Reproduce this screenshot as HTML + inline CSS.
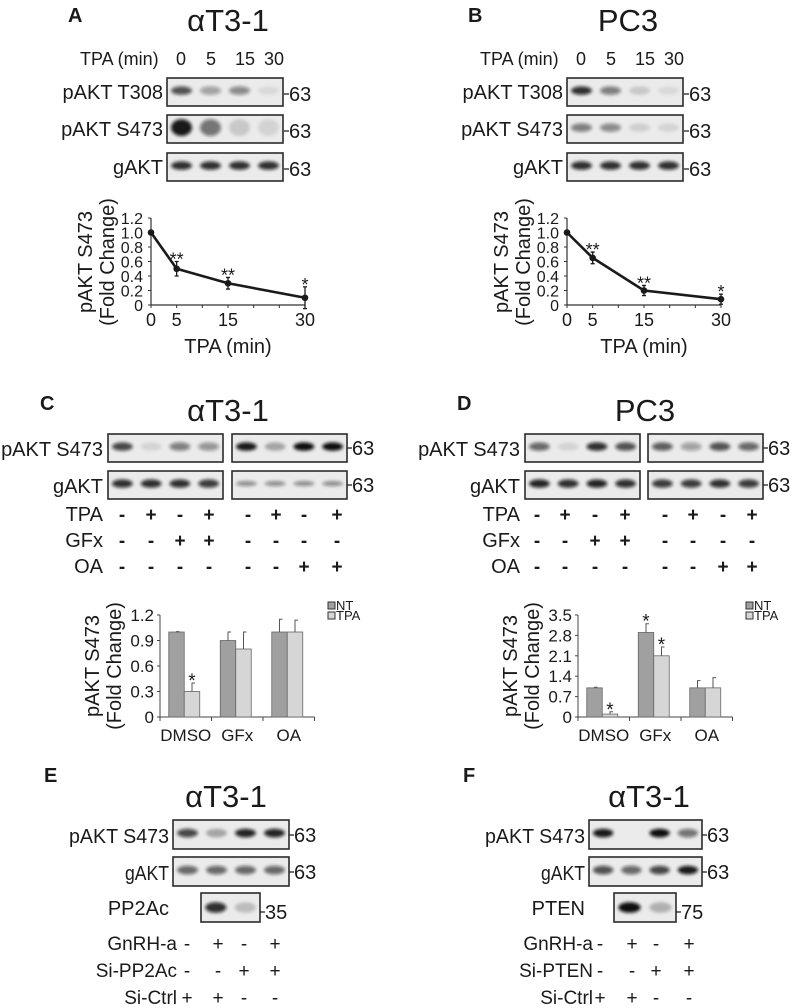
<!DOCTYPE html>
<html><head><meta charset="utf-8"><style>
html,body{margin:0;padding:0;background:#fff}
svg{display:block;font-family:"Liberation Sans",Arial,sans-serif}
</style></head><body>
<svg id="fig" width="800" height="1008" viewBox="0 0 800 1008" xmlns="http://www.w3.org/2000/svg">
<defs><filter id="bl" x="-30%" y="-100%" width="160%" height="300%"><feGaussianBlur stdDeviation="1.6"/></filter></defs>
</svg>
<script>
// ---- line chart data (A, B)
const timePoints=[0,5,15,30];
const xTicks=[0,5,15,30];
const yTicksLine=[0,0.2,0.4,0.6,0.8,1.0,1.2];
const yTickLabelsLine=['0','0.2','0.4','0.6','0.8','1.0','1.2'];
const aValues=[1.0,0.5,0.3,0.1];
const aErrors=[0.01,0.1,0.08,0.15];
const aStars=['','**','**','*'];
const bValues=[1.0,0.65,0.2,0.08];
const bErrors=[0.01,0.08,0.07,0.07];
const bStars=['','**','**','*'];
// ---- bar chart data (C, D)
const barCategories=['DMSO','GFx','OA'];
const cNT=[1.0,0.9,1.0];
const cNTErr=[0.005,0.1,0.15];
const cTPA=[0.3,0.8,1.0];
const cTPAErr=[0.1,0.2,0.14];
const cTicks=[0,0.3,0.6,0.9,1.2];
const cTickLabels=['0','0.3','0.6','0.9','1.2'];
const cStarsNT=['','',''];
const cStarsTPA=['*','',''];
const dNT=[1.0,2.9,1.0];
const dNTErr=[0.02,0.3,0.25];
const dTPA=[0.1,2.1,1.0];
const dTPAErr=[0.08,0.3,0.35];
const dTicks=[0,0.7,1.4,2.1,2.8,3.5];
const dTickLabels=['0','0.7','1.4','2.1','2.8','3.5'];
const dStarsNT=['','*',''];
const dStarsTPA=['*','*',''];

const svg=document.getElementById('fig');
const NS='http://www.w3.org/2000/svg';
function mk(tag,attrs,parent){const e=document.createElementNS(NS,tag);for(const k in attrs)e.setAttribute(k,attrs[k]);(parent||svg).appendChild(e);return e;}
function txt(x,y,s,size,anchor,name,extra){
  const e=mk('text',Object.assign({x:x,y:y,'font-size':size,'text-anchor':anchor||'start',fill:'#1a1a1a'},extra||{}));
  e.textContent=s;
  
  
  return e;}
function blot(x,y,w,h,ints,name,opt){
  opt=opt||{};
  const g=mk('g',{});
  
  
  const r=mk('rect',{x:x,y:y,width:w,height:h,fill:opt.bg||'#ebebeb',stroke:'#2b2b2b','stroke-width':1.6},g);
  
  
  const n=ints.length, lw=w/n;
  ints.forEach((v,i)=>{
    if(v<=0)return;
    const b=mk('ellipse',{cx:x+lw*(i+0.5),cy:y+h*(opt.cy||0.45),rx:lw*0.36,ry:h*(opt.ry||0.15),fill:'#111','fill-opacity':v,filter:'url(#bl)'},g);
    
    
  });
  return g;}
function mw(x,y,label,name,size){
  const l=mk('line',{x1:x,y1:y,x2:x+5,y2:y,stroke:'#222','stroke-width':1.3});
  
  
  txt(x+5,y+7,label,size||20,'start',name);
}

// ===== Panel A & B
function topPanel(ox,letter,title,blots){
  txt(ox+68,22,letter,20,'start','panel-label-'+letter,{'font-weight':'bold'});
  txt(ox+228,31,title,31,'middle','panel-title-'+letter);
  txt(ox+80,65,'TPA (min)',18,'start','tpa-header-'+letter);
  const nx=[181,211,245,274];
  ['0','5','15','30'].forEach((s,i)=>txt(ox+nx[i],65,s,18,'middle','lane-time-'+letter));
  const rows=[['pAKT T308',78,28],['pAKT S473',115,28],['gAKT',153,28]];
  rows.forEach((r,i)=>{
    txt(ox+163,r[1]+21,r[0],20,'end','blot-label-'+letter);
    blot(ox+167,r[1],116,r[2],blots[i],'blot-'+letter+'-'+i,{ry:i==1&&letter=='A'?0.3:0.15});
    mw(ox+284,r[1]+16,'63','mw-marker-'+letter);
  });
}
topPanel(0,'A','\u03b1T3-1',[[0.7,0.35,0.45,0.08],[0.95,0.55,0.15,0.1],[0.85,0.85,0.85,0.85]]);
topPanel(400,'B','PC3',[[0.85,0.5,0.15,0.08],[0.5,0.45,0.12,0.1],[0.85,0.85,0.85,0.85]]);

function lineChart(ax,vals,errs,stars,id){
  const x0=ax,x1=ax+154,yb=305,yt=218;
  const xs=t=>x0+(t/30)*(x1-x0);
  const ys=v=>yb-(v/1.2)*(yb-yt);
  const axis=mk('path',{d:`M${x0},${yt} V${yb} H${x1}`,fill:'none',stroke:'#333','stroke-width':1.2});
  
  
  yTicksLine.forEach((v,i)=>{
    const t=mk('line',{x1:x0-3,x2:x0,y1:ys(v),y2:ys(v),stroke:'#333'});
    
    
    txt(x0-8,ys(v)+6,yTickLabelsLine[i],16,'end','y-tick-label-'+id);
  });
  for(let m=0;m<=30;m+=5){
    const t=mk('line',{x1:xs(m),x2:xs(m),y1:yb,y2:yb+3,stroke:'#333'});
    
    
  }
  xTicks.forEach(v=>txt(xs(v),326,String(v),18,'middle','x-tick-label-'+id));
  txt(ax+77,353,'TPA (min)',20,'middle','x-axis-title-'+id);
  txt(0,0,'pAKT S473',20,'middle','y-axis-title-'+id,{transform:`translate(${ax-59},262) rotate(-90)`});
  txt(0,0,'(Fold Change)',20,'middle','y-axis-subtitle-'+id,{transform:`translate(${ax-37},262) rotate(-90)`});
  const p=mk('polyline',{points:timePoints.map((t,i)=>xs(t)+','+ys(vals[i])).join(' '),fill:'none',stroke:'#1a1a1a','stroke-width':2.6});
  
  
  timePoints.forEach((t,i)=>{
    const e=mk('path',{d:`M${xs(t)},${ys(vals[i]-errs[i])}V${ys(vals[i]+errs[i])}M${xs(t)-2},${ys(vals[i]+errs[i])}h4M${xs(t)-2},${ys(vals[i]-errs[i])}h4`,stroke:'#1a1a1a','stroke-width':1.3,fill:'none'});
    
    
    const c=mk('circle',{cx:xs(t),cy:ys(vals[i]),r:3.3,fill:'#1a1a1a'});
    
    
    if(stars[i])txt(xs(t),ys(vals[i]+errs[i])+4,stars[i],18,'middle','significance-star-'+id);
  });
}
lineChart(151,aValues,aErrors,aStars,'a');
lineChart(567,bValues,bErrors,bStars,'b');

// ===== Panel C & D
function midPanel(ox,letter,title,labX,boxes,signX,pak,gak){
  txt(ox+40,410,letter,20,'start','panel-label-'+letter,{'font-weight':'bold'});
  txt(ox+228,421,title,31,'middle','panel-title-'+letter);
  txt(labX,456,'pAKT S473',20,'end','blot-label-'+letter);
  txt(labX,493,'gAKT',20,'end','blot-label-'+letter);
  blot(boxes[0],434,115,28,pak[0],'blot-pakt-left-'+letter);
  blot(boxes[1],434,115,28,pak[1],'blot-pakt-right-'+letter);
  blot(boxes[0],471,115,28,gak[0],'blot-gakt-left-'+letter);
  blot(boxes[1],471,115,28,gak[1],'blot-gakt-right-'+letter,{ry:gak[2]||0.15});
  mw(boxes[1]+115,448,'63','mw-marker-'+letter);
  mw(boxes[1]+115,485,'63','mw-marker-'+letter);
  const rows=[['TPA',['-','+','-','+','-','+','-','+']],['GFx',['-','-','+','+','-','-','-','-']],['OA',['-','-','-','-','-','-','+','+']]];
  rows.forEach((r,i)=>{
    const y=521+i*26;
    txt(labX,y,r[0],20,'end','treatment-label-'+letter);
    r[1].forEach((s,j)=>txt(signX[j],y,s,19,'middle','treatment-sign-'+letter,{'font-weight':'bold'}));
  });
}
midPanel(0,'C','\u03b1T3-1',103,[108,232],[122,151,180,209,248,276,304,337],[[0.75,0.1,0.5,0.4],[0.95,0.3,1,1]],[[0.85,0.85,0.85,0.8],[0.45,0.45,0.45,0.45],0.09]);
midPanel(417,'D','PC3',520,[525,648],[537,565,595,625,665,693,723,752],[[0.6,0.1,0.85,0.7],[0.65,0.35,0.7,0.6]],[[0.9,0.85,0.9,0.85],[0.8,0.8,0.85,0.8]]);

function barChart(ax,ymax,ticks,tlabels,nt,ntE,tp,tpE,sNT,sTP,id){
  const yb=717,yt=615,gw=51.5;
  const ys=v=>yb-(v/ymax)*(yb-yt);
  const gx=i=>ax+gw*i;
  const axis=mk('path',{d:`M${ax},${yt} V${yb} H${ax+gw*3}`,fill:'none',stroke:'#444','stroke-width':1});
  
  
  ticks.forEach((v,i)=>{
    const t=mk('line',{x1:ax-3,x2:ax,y1:ys(v),y2:ys(v),stroke:'#444'});
    
    
    txt(ax-6,ys(v)+6,tlabels[i],17,'end','y-tick-label-'+id);
  });
  for(let i=0;i<=3;i++){
    const t=mk('line',{x1:gx(i),x2:gx(i),y1:yb,y2:yb+4,stroke:'#444'});
    
    
  }
  barCategories.forEach((c,i)=>{
    txt(gx(i)+gw/2,741,c,17,'middle','x-tick-label-'+id);
    const cx=gx(i)+gw/2-1.5, bw=15.5;
    [[nt,ntE,sNT,'#a0a0a0',-bw,'nt'],[tp,tpE,sTP,'#d6d6d6',0,'tpa']].forEach(s=>{
      const v=s[0][i],e=s[1][i],x=cx+s[4];
      const r=mk('rect',{x:x,y:ys(v),width:bw,height:yb-ys(v),fill:s[3],stroke:'#666','stroke-width':0.8});
      
      
      const el=mk('path',{d:`M${x+bw/2},${ys(v)}V${ys(v+e)}h3`,stroke:'#555','stroke-width':1,fill:'none'});
      
      
      if(s[2][i])txt(x+bw/2,ys(v+e)+4,s[2][i],19,'middle','significance-star-'+id);
    });
  });
  txt(0,0,'pAKT S473',20,'middle','y-axis-title-'+id,{transform:`translate(${ax-61},666) rotate(-90)`});
  txt(0,0,'(Fold Change)',20,'middle','y-axis-subtitle-'+id,{transform:`translate(${ax-39},666) rotate(-90)`});
  [['NT','#a0a0a0',602],['TPA','#d6d6d6',612]].forEach(l=>{
    const r=mk('rect',{x:ax+168,y:l[2],width:7,height:7,fill:l[1],stroke:'#333','stroke-width':1});
    
    
    txt(ax+176,l[2]+8,l[0],13,'start','legend-entry-'+l[0].toLowerCase());
  });
}
barChart(160,1.2,cTicks,cTickLabels,cNT,cNTErr,cTPA,cTPAErr,cStarsNT,cStarsTPA,'c');
barChart(578,3.5,dTicks,dTickLabels,dNT,dNTErr,dTPA,dTPAErr,dStarsNT,dStarsTPA,'d');

// ===== Panel E & F
function botPanel(letter,titleX,labX,box,pak,gak,small,smallName,smallMW,smallInts,signX,rows,lx){
  txt(lx,782,letter,20,'start','panel-label-'+letter,{'font-weight':'bold'});
  txt(titleX,807,'\u03b1T3-1',31,'middle','panel-title-'+letter);
  txt(labX,843,'pAKT S473',20,'end','blot-label-'+letter,{textLength:100,lengthAdjust:'spacingAndGlyphs'});
  txt(labX,880,'gAKT',20,'end','blot-label-'+letter,{textLength:44,lengthAdjust:'spacingAndGlyphs'});
  blot(box[0],820,box[1],29,pak,'blot-pakt-'+letter);
  blot(box[0],857,box[1],29,gak,'blot-gakt-'+letter);
  mw(box[0]+box[1],835,'63','mw-marker-'+letter);
  mw(box[0]+box[1],872,'63','mw-marker-'+letter);
  txt(small[2],915,smallName,20,'end','blot-label-'+letter);
  blot(small[0],893,small[1],29,smallInts,'blot-'+smallName.toLowerCase()+'-'+letter,{cy:0.5,ry:0.18});
  mw(small[0]+small[1],912,smallMW,'mw-marker-'+letter);
  rows.forEach((r,i)=>{
    const y=950+i*27;
    txt(labX+8,y,r[0],19,'end','treatment-label-'+letter);
    r[1].forEach((s,j)=>txt(signX[j],y,s,19,'middle','treatment-sign-'+letter));
  });
}
botPanel('E',226,169,[173,116],[0.75,0.3,0.9,0.9],[0.6,0.6,0.6,0.6],[201,59,169],'PP2Ac','35',[0.85,0.2],[187,218,244,275],
  [['GnRH-a',['-','+','-','+']],['Si-PP2Ac',['-','-','+','+']],['Si-Ctrl',['+','+','-','-']]],44);
botPanel('F',649,585,[589,113],[0.95,0,1,0.55],[0.7,0.6,0.75,0.95],[614,62,585],'PTEN','75',[1,0.25],[600,632,656,689],
  [['GnRH-a',['-','+','-','+']],['Si-PTEN',['-','-','+','+']],['Si-Ctrl',['+','+','-','-']]],463);
</script>
</body></html>
